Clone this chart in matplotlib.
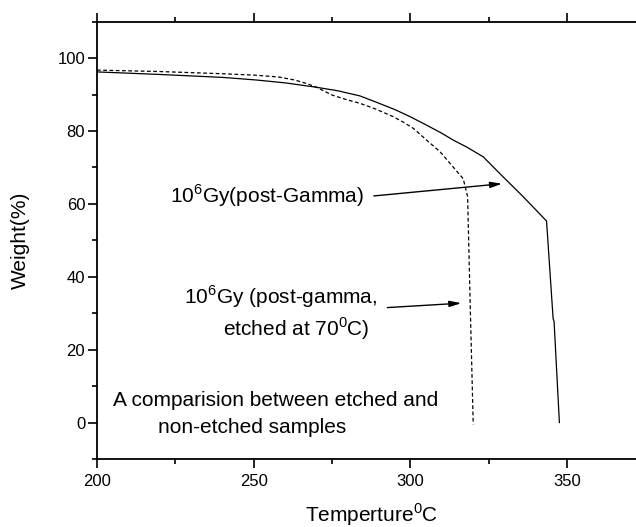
import matplotlib
matplotlib.use("Agg")
from matplotlib import pyplot as plt
from matplotlib.ticker import MultipleLocator

plt.rcParams['font.family'] = ['Liberation Sans', 'DejaVu Sans']

# post-gamma sample (solid)
temp_gamma = [200, 220, 240, 250.6, 260, 270, 277, 284, 290, 295, 300, 305.2,
              310, 313.7, 318, 323.3, 328.6, 336, 343.5, 345.6, 345.9, 347.6]
weight_gamma = [96.2, 95.5, 94.7, 94.0, 93.2, 92.0, 91.0, 89.6, 87.6, 85.9, 83.9, 81.6,
                79.4, 77.5, 75.6, 72.9, 68.3, 62.0, 55.3, 28.5, 27.8, 0]

# post-gamma, etched at 70C (dashed)
temp_etched = [200, 220, 240, 250.6, 258, 263, 267, 270, 275.2, 280, 283.9, 289,
               294.6, 298, 301, 305.2, 309.5, 313.7, 316.9, 318.3, 319.2, 320.1]
weight_etched = [96.7, 96.3, 95.7, 95.3, 94.8, 94.0, 93.0, 92.0, 89.8, 88.5, 87.6, 86.0,
                 83.9, 82.3, 80.7, 77.5, 74.3, 70.1, 66.9, 62.0, 30, -0.5]

fig = plt.figure(figsize=(6.36, 5.27), dpi=100)
ax = fig.add_axes([0.1525, 0.129, 0.862, 0.830])

ax.plot(temp_gamma, weight_gamma, color='black', lw=0.9)
ax.plot(temp_etched, weight_etched, color='black', lw=0.9, dashes=(3, 2))

ax.set_xlim(200, 375)
ax.set_ylim(-10, 110)
ax.xaxis.set_major_locator(MultipleLocator(50))
ax.xaxis.set_minor_locator(MultipleLocator(25))
ax.yaxis.set_major_locator(MultipleLocator(20))
ax.yaxis.set_minor_locator(MultipleLocator(10))
ax.set_yticks([0, 20, 40, 60, 80, 100])

ax.spines['right'].set_visible(False)
for s in ['left', 'bottom', 'top']:
    ax.spines[s].set_linewidth(1.3)
ax.tick_params(which='both', direction='out', top=True, labeltop=False,
               width=1.2, labelsize=12)
ax.tick_params(which='major', length=6.5)
ax.tick_params(which='minor', length=3.8)
ax.tick_params(axis='x', pad=4)
ax.tick_params(axis='y', pad=2)

ax.set_xlabel(r'Temperture$^{\mathregular{0}}$C', fontsize=15, va='center')
ax.xaxis.set_label_coords(0.5, -0.128)
ax.set_ylabel('Weight(%)', fontsize=15, va='center')
ax.yaxis.set_label_coords(-0.139, 0.5)

ax.text(223.4, 63.2, r'10$^{\mathregular{6}}$Gy(post-Gamma)', fontsize=15,
        ha='left', va='center_baseline')
ax.annotate('', xy=(330.2, 65.6), xytext=(287.5, 62.1),
            arrowprops=dict(arrowstyle='-|>,head_length=0.7,head_width=0.18',
                            color='black', lw=1))

ax.text(227.9, 35.4, r'10$^{\mathregular{6}}$Gy (post-gamma,', fontsize=15,
        ha='left', va='center_baseline')
ax.text(240.2, 26.6, r'etched at 70$^{\mathregular{0}}$C)', fontsize=15,
        ha='left', va='center_baseline')
ax.annotate('', xy=(317.2, 32.8), xytext=(291.8, 31.5),
            arrowprops=dict(arrowstyle='-|>,head_length=0.7,head_width=0.18',
                            color='black', lw=1))

ax.text(205.0, 6.6, 'A comparision between etched and', fontsize=15,
        ha='left', va='center_baseline')
ax.text(219.5, -0.8, 'non-etched samples', fontsize=15,
        ha='left', va='center_baseline')

fig.savefig('out.png', dpi=100)
